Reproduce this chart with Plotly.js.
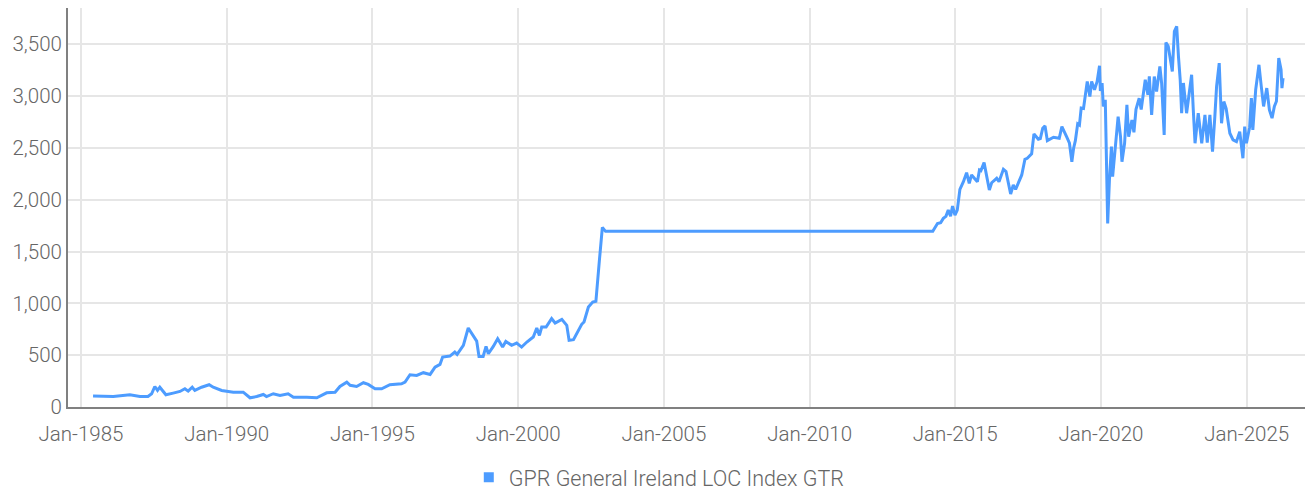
<!DOCTYPE html>
<html>
<head>
<meta charset="utf-8">
<script src="https://cdn.plot.ly/plotly-3.0.1.min.js"></script>
<style>
  html, body { margin: 0; padding: 0; background: #fff; }
  #chart { width: 1306px; height: 490px; }
</style>
</head>
<body>
<div id="chart"></div>
<script>
const seriesName = "GPR General Ireland LOC Index GTR";

const dates = [
"1985-06-01","1986-02-10","1986-09-05","1987-01-10","1987-04-20","1987-06-05","1987-07-15","1987-08-18","1987-09-16","1987-12-01",
"1988-03-01","1988-05-25","1988-07-26","1988-09-05","1988-10-26","1988-11-28","1989-02-20","1989-05-26","1989-07-16","1989-10-30",
"1990-03-25","1990-07-27","1990-10-20","1991-01-12","1991-04-05","1991-05-15","1991-08-08","1991-10-31","1992-02-10","1992-04-16",
"1992-10-01","1993-02-03","1993-06-07","1993-09-20","1993-11-20","1994-02-14","1994-03-28","1994-06-17","1994-09-10","1994-11-10",
"1995-02-03","1995-04-27","1995-08-08","1996-01-01","1996-02-14","1996-04-16","1996-07-09","1996-10-01","1996-12-24","1997-02-24",
"1997-04-27","1997-05-30","1997-08-29","1997-10-30","1997-11-28","1998-02-14","1998-04-16","1998-06-17","1998-07-31","1998-08-29",
"1998-10-20","1998-11-25","1998-12-24","1999-02-24","1999-04-20","1999-06-21","1999-07-31","1999-10-12","1999-12-14","2000-02-14",
"2000-04-20","2000-07-09","2000-08-22","2000-09-24","2000-10-23","2000-12-17","2001-02-24","2001-04-09","2001-07-02","2001-09-02",
"2001-10-01","2001-11-25","2002-03-08","2002-04-06","2002-05-31","2002-07-24","2002-09-02","2002-10-16","2002-11-22","2003-01-01",
"2014-03-25","2014-05-23","2014-07-02","2014-08-04","2014-09-06","2014-10-05","2014-11-03","2014-11-28","2014-12-28","2015-01-26",
"2015-02-28","2015-04-13","2015-05-23","2015-06-25","2015-07-24","2015-10-05","2015-10-31","2015-11-18","2015-12-28","2016-03-03",
"2016-04-01","2016-06-03","2016-07-02","2016-08-26","2016-09-28","2016-11-25","2016-12-28","2017-01-26","2017-04-13","2017-05-23",
"2017-06-21","2017-08-15","2017-09-13","2017-11-07","2017-12-02","2018-01-01","2018-01-30","2018-02-28","2018-05-16","2018-07-27",
"2018-08-29","2018-10-30","2018-12-02","2019-01-01","2019-01-23","2019-02-14","2019-03-15","2019-04-06","2019-04-28","2019-05-27",
"2019-06-21","2019-07-13","2019-08-15","2019-09-06","2019-10-12","2019-11-14","2019-12-14","2019-12-24","2020-01-15","2020-01-30",
"2020-02-24","2020-03-25","2020-04-16","2020-05-11","2020-05-26","2020-07-01","2020-08-03","2020-09-02","2020-09-20","2020-10-23",
"2020-11-21","2020-12-13","2021-01-23","2021-02-17","2021-03-15","2021-04-24","2021-05-19","2021-07-09","2021-08-11","2021-08-29",
"2021-09-27","2021-10-30","2021-11-28","2022-01-08","2022-01-30","2022-03-03","2022-03-25","2022-04-23","2022-05-15","2022-06-13",
"2022-07-09","2022-08-07","2022-08-29","2022-09-20","2022-10-08","2022-10-30","2022-12-09","2023-01-08","2023-02-10","2023-03-03",
"2023-03-25","2023-05-04","2023-06-17","2023-07-27","2023-08-25","2023-09-27","2023-10-30","2023-11-28","2023-12-20","2024-01-22",
"2024-02-20","2024-03-20","2024-04-18","2024-06-03","2024-07-13","2024-08-25","2024-10-05","2024-11-14","2024-12-06","2024-12-28",
"2025-02-06","2025-02-28","2025-03-18","2025-04-23","2025-06-03","2025-07-02","2025-07-31","2025-09-09","2025-10-12","2025-11-14",
"2025-12-13","2026-01-08","2026-02-06","2026-03-07","2026-03-18","2026-04-01"
];

const values = [
105,101,118,101,101,128,198,160,191,118,
134,150,176,153,191,160,191,215,191,160,
143,143,89,101,121,101,128,111,128,95,
95,89,137,143,198,240,210,198,234,218,
176,176,215,224,240,311,305,331,314,385,
411,482,491,530,508,595,762,691,636,488,
488,585,514,585,659,578,633,595,617,578,
627,675,762,691,772,772,853,810,846,788,
643,650,798,820,965,1013,1020,1417,1733,1695,
1695,1771,1778,1820,1840,1900,1842,1939,1852,1900,
2100,2174,2261,2158,2239,2174,2287,2280,2358,2094,
2164,2207,2174,2294,2271,2055,2142,2100,2239,2390,
2400,2442,2635,2584,2590,2690,2712,2570,2603,2593,
2706,2603,2545,2367,2497,2570,2732,2720,2884,2880,
3029,3141,2996,3141,3061,3141,3293,3050,3126,2900,
2964,1772,2190,2512,2222,2545,2802,2609,2367,2545,
2916,2609,2770,2650,2873,2980,2870,3157,3012,3190,
2819,3189,3044,3286,3126,2625,3518,3480,3383,3238,
3624,3673,3383,3157,2835,3126,2835,3000,3206,2867,
2545,2835,2545,2819,2550,2819,2464,2802,3093,3318,
2738,2947,2880,2642,2577,2560,2657,2400,2706,2545,
2700,2980,2674,3061,3302,3093,2900,3077,2867,2787,
2900,2950,3367,3254,3077,3174
];

const yTickVals = [0,500,1000,1500,2000,2500,3000,3500];
const yTickText = ["0","500","1,000","1,500","2,000","2,500","3,000","3,500"];
const xTickVals = ["1985-01-01","1990-01-01","1995-01-01","2000-01-01","2005-01-01","2010-01-01","2015-01-01","2020-01-01","2025-01-01"];
const xTickText = ["Jan-1985","Jan-1990","Jan-1995","Jan-2000","Jan-2005","Jan-2010","Jan-2015","Jan-2020","Jan-2025"];

const lineColor = "#4d9cff";
const fontFam = "Roboto, sans-serif";
const tickFont = { family: fontFam, size: 20.5, color: "#666666", weight: 300 };

const traces = [
  {
    x: dates, y: values, type: "scatter", mode: "lines",
    line: { color: lineColor, width: 3 },
    name: seriesName, showlegend: false, hoverinfo: "x+y"
  },
  {
    x: [null], y: [null], type: "scatter", mode: "markers",
    marker: { color: lineColor, symbol: "square", size: 10 },
    name: seriesName, showlegend: true
  }
];

const layout = {
  width: 1306, height: 490,
  margin: { l: 68, r: 1, t: 8, b: 83 },
  paper_bgcolor: "#ffffff", plot_bgcolor: "#ffffff",
  font: tickFont,
  showlegend: true,
  legend: {
    orientation: "h", xref: "paper", x: 0.478, xanchor: "center",
    yref: "container", y: 0.026, yanchor: "middle",
    font: { family: fontFam, size: 21.5, color: "#666666", weight: 300 },
    itemwidth: 30
  },
  xaxis: {
    type: "date",
    range: ["1984-07-22", "2027-01-01"],
    tickvals: xTickVals, ticktext: xTickText,
    showgrid: true, gridcolor: "#e6e6e6", gridwidth: 2,
    showline: true, linecolor: "#808080", linewidth: 2,
    ticks: "", zeroline: false, ticklabelstandoff: 7,
    tickfont: tickFont
  },
  yaxis: {
    range: [0, 3850],
    tickvals: yTickVals, ticktext: yTickText,
    showgrid: true, gridcolor: "#e6e6e6", gridwidth: 2,
    showline: true, linecolor: "#808080", linewidth: 2,
    ticks: "", zeroline: false,
    tickfont: tickFont
  }
};

Plotly.newPlot("chart", traces, layout, { displayModeBar: false, staticPlot: true });
</script>
</body>
</html>
